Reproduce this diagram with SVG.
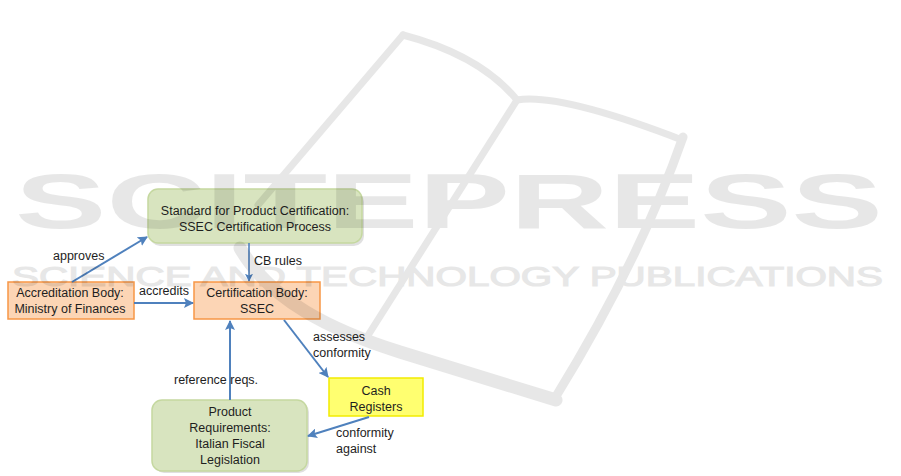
<svg xmlns="http://www.w3.org/2000/svg" width="901" height="476" viewBox="0 0 901 476">
<style>
text{font-family:"Liberation Sans",Arial,sans-serif;font-size:12.5px;fill:#1e1e1e}
.c{text-anchor:middle}
.green{fill:#d8e4bf;stroke:#c5d8a0;stroke-width:1.5}
.orange{fill:#fcd5b5;stroke:#f79646;stroke-width:1.5}
.yellow{fill:#ffff70;stroke:#f2ec00;stroke-width:1.5}
.shadow{fill:#000;opacity:0.12}
.conn{stroke:#4f81bd;stroke-width:2;fill:none;marker-end:url(#arr)}
.wml{fill:none;stroke:#000;stroke-linecap:round;stroke-linejoin:round}
</style>
<defs>
<marker id="arr" viewBox="0 0 10 10" refX="9" refY="5" markerWidth="5" markerHeight="5" orient="auto" markerUnits="strokeWidth">
<path d="M0,0 L10,5 L0,10 L2,5 z" fill="#4f81bd"/>
</marker>
</defs>
<rect width="901" height="476" fill="#ffffff"/>

<g id="node-standard">
<rect class="shadow" x="150" y="192" width="214" height="54" rx="10"/>
<rect class="green" x="148" y="189" width="214" height="54" rx="10"/>
<text class="c" x="255" y="215">Standard for Product Certification:</text>
<text class="c" x="255" y="231">SSEC Certification Process</text>
</g>
<g id="node-accreditation">
<rect class="orange" x="8" y="282" width="126" height="37"/>
<text class="c" x="70" y="297">Accreditation Body:</text>
<text class="c" x="70" y="313">Ministry of Finances</text>
</g>
<g id="node-certification">
<rect class="orange" x="194" y="282" width="126" height="37"/>
<text class="c" x="257" y="297">Certification Body:</text>
<text class="c" x="257" y="313">SSEC</text>
</g>
<g id="node-cash">
<rect class="yellow" x="329" y="378" width="94" height="38"/>
<text class="c" x="376" y="395">Cash</text>
<text class="c" x="376" y="411">Registers</text>
</g>
<g id="node-product">
<rect class="shadow" x="154" y="402" width="155" height="71" rx="10"/>
<rect class="green" x="152" y="400" width="155" height="71" rx="10"/>
<text class="c" x="230" y="416">Product</text>
<text class="c" x="230" y="432">Requirements:</text>
<text class="c" x="230" y="448">Italian Fiscal</text>
<text class="c" x="230" y="464">Legislation</text>
</g>

<g id="connectors">
<line class="conn" x1="72" y1="282" x2="147" y2="237"/>
<line class="conn" x1="249" y1="243" x2="249" y2="281" style="stroke-width:1.6"/>
<line class="conn" x1="134" y1="303" x2="193" y2="303"/>
<line class="conn" x1="284" y1="320" x2="328" y2="377"/>
<line class="conn" x1="230" y1="400" x2="230" y2="321"/>
<line class="conn" x1="369" y1="417" x2="308" y2="436"/>
<text x="53" y="260">approves</text>
<text x="254" y="265">CB rules</text>
<text x="139" y="295">accredits</text>
<text x="313" y="341">assesses</text>
<text x="313" y="357">conformity</text>
<text x="174" y="384">reference reqs.</text>
<text x="336" y="437">conformity</text>
<text x="336" y="453">against</text>
</g>

<g id="watermark" opacity="0.09">
<path class="wml" stroke-width="7" d="M403 35 L258 205"/>
<path class="wml" stroke-width="7" d="M403 35 Q480 55 517 100 Q560 93 682 140"/>
<path class="wml" stroke-width="7" d="M517 100 L367 337"/>
<path class="wml" stroke-width="9" d="M683 137 Q640 260 555 398"/>
<path class="wml" stroke-width="13" d="M240 248 C270 300 330 330 400 352 L556 400"/>
<text x="15" y="228" textLength="868" lengthAdjust="spacingAndGlyphs" style="font-size:77px;font-weight:bold;fill:#000">SCITEPRESS</text>
<text x="12" y="286" textLength="871" lengthAdjust="spacingAndGlyphs" style="font-size:28px;fill:#000;stroke:#000;stroke-width:1.2">SCIENCE AND TECHNOLOGY PUBLICATIONS</text>
</g>
</svg>
